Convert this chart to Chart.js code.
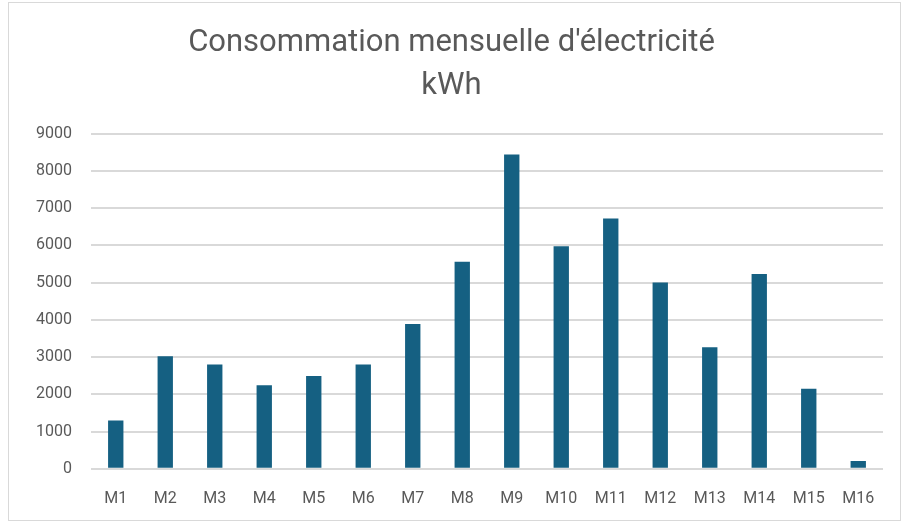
<!DOCTYPE html>
<html>
<head>
<meta charset="utf-8">
<script src="https://cdn.jsdelivr.net/npm/chart.js@4.4.0/dist/chart.umd.min.js"></script>
<style>
  html, body { margin: 0; padding: 0; background: #fff; }
  #wrap { width: 909px; height: 526px; position: relative; }
</style>
</head>
<body>
<div id="wrap"><canvas id="my-chart" width="909" height="526"></canvas></div>
<script>
'use strict';

// ******* DATA *******
let months = ['M1', 'M2', 'M3', 'M4', 'M5', 'M6', 'M7', 'M8', 'M9', 'M10', 'M11', 'M12', 'M13', 'M14', 'M15', 'M16'];
let consumption = [1300, 3020, 2800, 2240, 2490, 2800, 3890, 5560, 8440, 5975, 6720, 5000, 3265, 5230, 2150, 210];
let yTicks = [0, 1000, 2000, 3000, 4000, 5000, 6000, 7000, 8000, 9000];

let textColor = '#595959';
let fontFamily = 'Roboto, "Noto Sans", sans-serif';

// light frame around the chart, like the spreadsheet chart area
let framePlugin = {
  id: 'frame',
  beforeDraw(chart) {
    let ctx = chart.ctx;
    ctx.save();
    ctx.fillStyle = '#fff';
    ctx.fillRect(0, 0, chart.width, chart.height);
    ctx.strokeStyle = '#d9d9d9';
    ctx.lineWidth = 1;
    ctx.strokeRect(8.5, 2.5, 892, 518);
    ctx.restore();
  }
};

let canvasElem = document.getElementById('my-chart').getContext('2d');

new Chart(canvasElem, {
  type: 'bar',
  data: {
    labels: months,
    datasets: [{
      data: consumption,
      backgroundColor: '#156082',
      borderWidth: 0,
      barPercentage: 0.31,
      categoryPercentage: 1
    }]
  },
  options: {
    responsive: false,
    animation: false,
    layout: { padding: { left: 20, right: 26, top: 22, bottom: 4 } },
    plugins: {
      legend: { display: false },
      tooltip: { enabled: false },
      title: {
        display: true,
        text: ["Consommation mensuelle d'électricité", 'kWh'],
        color: textColor,
        font: { family: fontFamily, size: 31, weight: 'normal', lineHeight: 1.38 },
        padding: { top: 0, bottom: 26 }
      }
    },
    scales: {
      x: {
        grid: { display: false },
        border: { display: false },
        ticks: { color: textColor, font: { family: fontFamily, size: 16 }, padding: 13 }
      },
      y: {
        min: 0,
        max: 9000,
        afterFit(scale) { scale.width = 71; },
        afterBuildTicks(scale) { scale.ticks = yTicks.map(v => ({ value: v })); },
        grid: { color: '#d9d9d9', lineWidth: 2, drawTicks: false },
        border: { display: false },
        ticks: {
          color: textColor,
          font: { family: fontFamily, size: 16 },
          padding: 19,
          callback: (value) => String(value)
        }
      }
    }
  },
  plugins: [framePlugin]
});
</script>
</body>
</html>
